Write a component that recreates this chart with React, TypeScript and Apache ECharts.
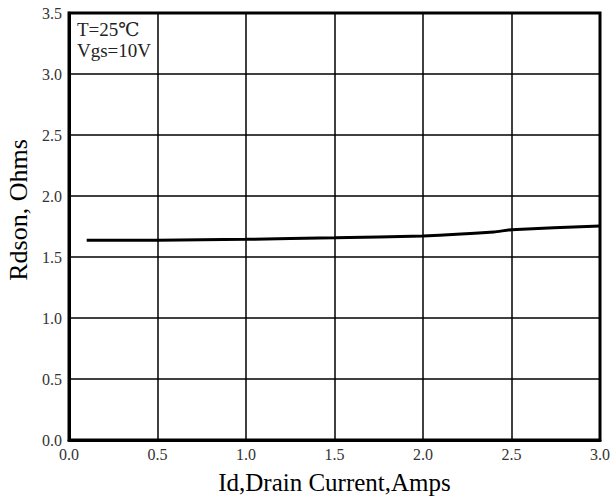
import React, { useEffect, useRef } from "react";
import * as echarts from "echarts";

const currentAmps = [0.1, 0.5, 1.0, 1.5, 2.0, 2.4, 2.5, 3.0];
const rdsonOhms = [1.638, 1.638, 1.645, 1.657, 1.673, 1.705, 1.724, 1.755];
const annotationLines = ["T=25℃", "Vgs=10V"];

const FONT = "'Liberation Serif', 'DejaVu Serif', serif";

export default function App() {
  const ref = useRef<HTMLDivElement>(null);
  useEffect(() => {
    if (!ref.current) return;
    const chart = echarts.init(ref.current, null, { renderer: "svg" });
    chart.setOption({
      animation: false,
      backgroundColor: "#ffffff",
      grid: {
        left: 69,
        right: 15,
        top: 13,
        bottom: 57,
        containLabel: false,
        outerBoundsMode: "none",
        show: true,
        borderColor: "#000",
        borderWidth: 3,
        backgroundColor: "transparent",
      },
      xAxis: {
        type: "value",
        min: 0,
        max: 3,
        interval: 0.5,
        name: "Id,Drain Current,Amps",
        nameLocation: "middle",
        nameGap: 30,
        nameTextStyle: { fontFamily: FONT, fontSize: 25, color: "#000" },
        axisLine: { show: true, lineStyle: { color: "#000", width: 3 } },
        axisTick: { show: false },
        axisLabel: {
          fontFamily: FONT,
          fontSize: 16,
          color: "#333",
          margin: 6,
          formatter: (v: number) => v.toFixed(1),
        },
        splitLine: { show: true, lineStyle: { color: "#000", width: 1.5 } },
      },
      yAxis: {
        type: "value",
        min: 0,
        max: 3.5,
        interval: 0.5,
        name: "Rdson, Ohms",
        nameLocation: "middle",
        nameGap: 38,
        nameTextStyle: { fontFamily: FONT, fontSize: 26, color: "#000", padding: [0, 0, 0, 33] },
        axisLine: { show: true, lineStyle: { color: "#000", width: 3 } },
        axisTick: { show: false },
        axisLabel: {
          fontFamily: FONT,
          fontSize: 16,
          color: "#333",
          margin: 7,
          formatter: (v: number) => v.toFixed(1),
        },
        splitLine: { show: true, lineStyle: { color: "#000", width: 1.5 } },
      },
      graphic: [
        {
          type: "text",
          left: 77,
          top: 19,
          style: {
            text: annotationLines.join("\n"),
            fontFamily: FONT,
            fontSize: 19,
            lineHeight: 21,
            fill: "#222",
          },
          z: 11,
        },
      ],
      series: [
        {
          type: "line",
          data: currentAmps.map((x, i) => [x, rdsonOhms[i]]),
          showSymbol: false,
          smooth: 0.2,
          lineStyle: { color: "#000", width: 3 },
        },
      ],
    });
    return () => chart.dispose();
  }, []);
  return (
    <div
      ref={ref}
      style={{ position: "fixed", left: 0, top: 0, width: 615, height: 497 }}
    />
  );
}
